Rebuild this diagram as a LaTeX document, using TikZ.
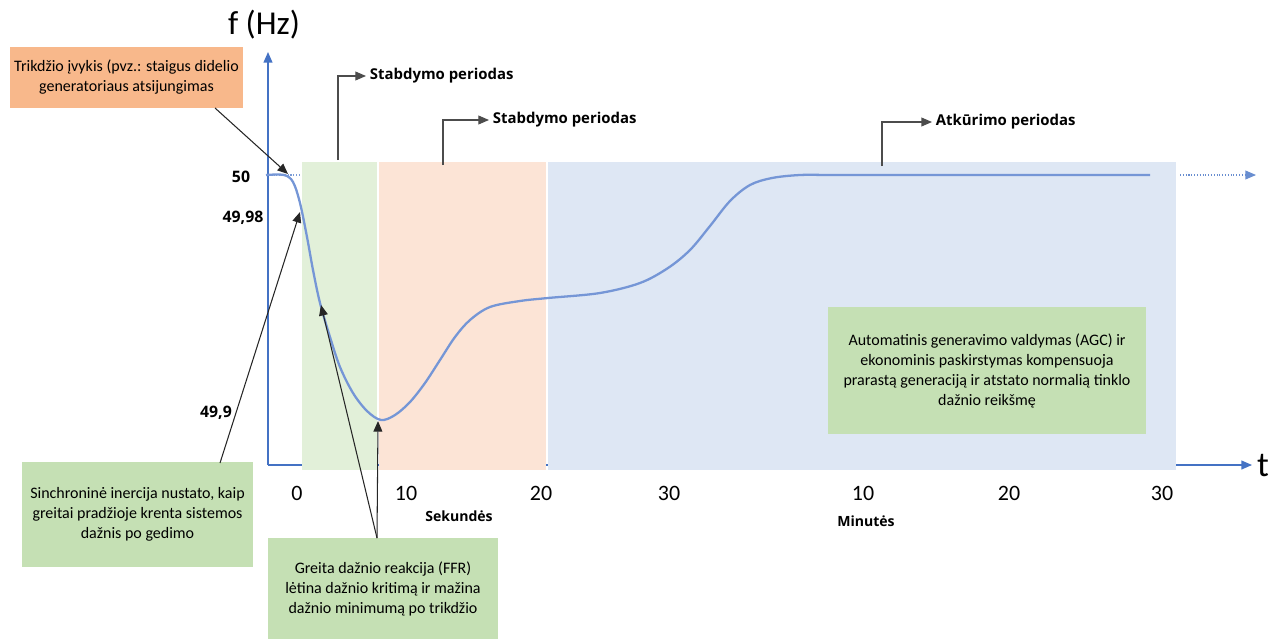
\documentclass[tikz,border=0pt]{standalone}
\usepackage{fontspec}
\setmainfont{Carlito}
\newfontfamily\labelfont{Open Sans}
\usetikzlibrary{arrows.meta}
\pgfdeclarelayer{bg}
\pgfsetlayers{bg,main}
\definecolor{axisblue}{HTML}{4472C4}
\definecolor{curveblue}{HTML}{7596D6}
\definecolor{rectgreen}{HTML}{E2F0D9}
\definecolor{rectpeach}{HTML}{FCE4D6}
\definecolor{rectblue}{HTML}{DEE7F4}
\definecolor{notegreen}{HTML}{C5E0B4}
\definecolor{noteorange}{HTML}{F8B88B}

\begin{document}
\begin{tikzpicture}[x=0.02cm,y=-0.02cm,
    note/.style={align=center,inner sep=2pt,font=\fontsize{9.1}{11.4}\selectfont},
    period/.style={anchor=west,inner sep=2pt,font=\labelfont\bfseries\fontsize{8.5}{10}\selectfont},
    ticklbl/.style={font=\fontsize{12.5}{14}\selectfont},
    ylbl/.style={font=\labelfont\bfseries\fontsize{9}{10}\selectfont},
    unitlbl/.style={font=\labelfont\bfseries\fontsize{8}{10}\selectfont},
    pointer/.style={draw=black!85,line width=0.6pt,-{Triangle[length=6pt,width=5pt]}},
    axis/.style={draw=axisblue,line width=0.8pt,-{Triangle[length=6pt,width=5pt]}}]
  \useasboundingbox (0,0) rectangle (1280,639);

  % axes and periods
  \coordinate (o) at (268,465);
  \coordinate (ytop) at (268,52);
  \coordinate (xend) at (1252,465);
  \coordinate (fifty) at (268,175);
  \coordinate (fiftyend) at (300,175);
  \coordinate (dotstart) at (1180,175);
  \coordinate (dotend) at (1256,175);

  \node (fhz) [font=\fontsize{19}{22}\selectfont] at (264,25) {f (Hz)};
  \node (tlbl) [font=\fontsize{20}{22}\selectfont] at (1263,466) {t};

  \node (v50) [ylbl] at (241,177) {50};
  \node (v4998) [ylbl] at (243,218) {49,98};
  \node (v499) [ylbl] at (216,413) {49,9};

  \node (s0) [ticklbl] at (297,493) {0};
  \node (s10) [ticklbl] at (406,493) {10};
  \node (s20) [ticklbl] at (541,493) {20};
  \node (s30) [ticklbl] at (669,493) {30};
  \node (m10) [ticklbl] at (863,493) {10};
  \node (m20) [ticklbl] at (1009,493) {20};
  \node (m30) [ticklbl] at (1162,493) {30};
  \node (sek) [unitlbl] at (459,516) {Sekundės};
  \node (min) [unitlbl] at (866,521) {Minutės};

  \begin{pgfonlayer}{bg}
    \draw[axis] (o) -- (xend);
    \draw[axis] (o) -- (ytop);
    \fill[rectgreen] (302,162) rectangle (377,470);
    \fill[rectpeach] (379,162) rectangle (546,470);
    \fill[rectblue] (548,162) rectangle (1176,470);
    \draw[axisblue!70,densely dotted,line width=0.6pt] (fifty) -- (fiftyend);
    \draw[axisblue!80,densely dotted,line width=0.6pt,-{Triangle[length=6pt,width=5pt]}] (dotstart) -- (dotend);
  \end{pgfonlayer}

  % frequency curve
  \draw[curveblue,line width=1.3pt] plot[smooth,tension=0.55] coordinates {
    (266,175) (284,175) (293,182) (300,203) (307,237) (313,270) (320,303)
    (330,337) (340,367) (353,393) (367,411) (381,420) (395,415) (410,402)
    (425,383) (440,360) (455,337) (470,320) (490,307) (520,301) (548,298)
    (600,293) (640,283) (668,268) (690,250) (710,226) (730,201) (750,185)
    (772,178) (800,175) (830,175) (870,175) (950,175) (1050,175) (1150,175)};

  \coordinate (hit50) at (288,174);
  \coordinate (hit4998) at (300,212);
  \coordinate (hitffr) at (321,305);
  \coordinate (hitmin) at (378,421);

  % notes
  \node (trik) [note,fill=noteorange,minimum width=4.66cm,minimum height=1.22cm] at (126.5,77.5)
    {Trikdžio įvykis (pvz.: staigus didelio\\generatoriaus atsijungimas};
  \node (sinch) [note,fill=notegreen,minimum width=4.62cm,minimum height=2.1cm] at (137.5,514.5)
    {Sinchroninė inercija nustato, kaip\\greitai pradžioje krenta sistemos\\dažnis po gedimo};
  \node (ffr) [note,fill=notegreen,minimum width=4.6cm,minimum height=2.02cm] at (383,588.5)
    {Greita dažnio reakcija (FFR)\\lėtina dažnio kritimą ir mažina\\dažnio minimumą po trikdžio};
  \node (agc) [note,fill=notegreen,minimum width=6.36cm,minimum height=2.54cm] at (987,370.5)
    {Automatinis generavimo valdymas (AGC) ir\\ekonominis paskirstymas kompensuoja\\prarastą generaciją ir atstato normalią tinklo\\dažnio reikšmę};

  \coordinate (trikfoot) at (215,108);
  \coordinate (sinchtop) at (220,463);
  \coordinate (ffrtop) at (377,538);

  \draw[pointer] (trikfoot) -- (hit50);
  \draw[pointer] (sinchtop) -- (hit4998);
  \draw[pointer] (ffrtop) -- (hitffr);
  \draw[pointer] (ffrtop) -- (hitmin);

  % period labels
  \node (stab1) [period] at (366,76) {Stabdymo periodas};
  \node (stab2) [period] at (489,120) {Stabdymo periodas};
  \node (atk) [period] at (932,122) {Atkūrimo periodas};
  \coordinate (g1) at (338,160);
  \coordinate (g2) at (443,165);
  \coordinate (g3) at (882,166);

  \draw[pointer,draw=black!70] (g1) |- (stab1.west);
  \draw[pointer,draw=black!70] (g2) |- (stab2.west);
  \draw[pointer,draw=black!70] (g3) |- (atk.west);
\end{tikzpicture}
\end{document}
